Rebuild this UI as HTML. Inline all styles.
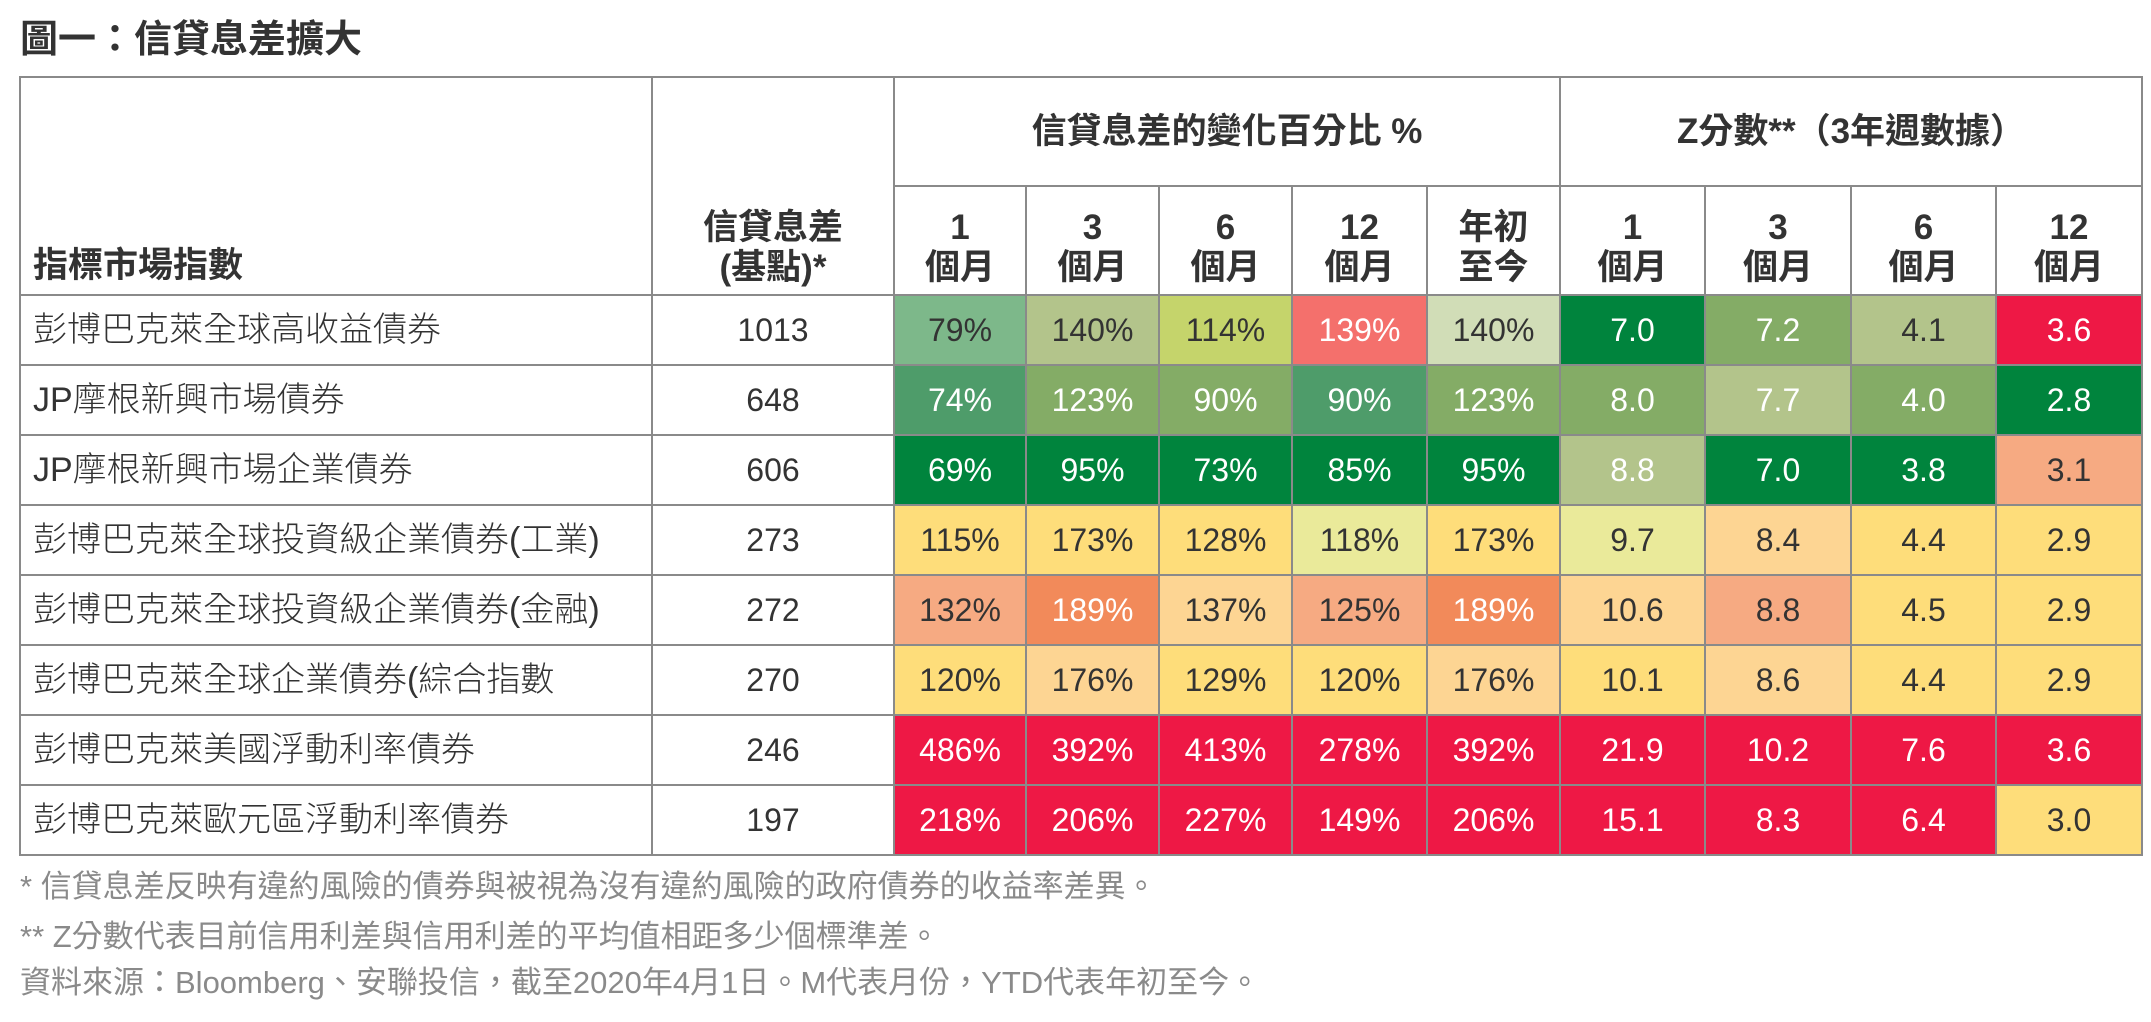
<!DOCTYPE html>
<html><head><meta charset="utf-8"><style>
body{margin:0;width:2151px;height:1022px;background:#fff;font-family:"Liberation Sans","Noto Sans CJK TC",sans-serif;color:#333;position:relative;overflow:hidden}
.title{position:absolute;left:20px;top:16px;font-size:38px;font-weight:bold;color:#333;line-height:48px}
table{position:absolute;left:19px;top:76px;border-collapse:collapse;table-layout:fixed}
td{border:2px solid #8a8a8a;padding:0;text-align:center;font-size:32px;line-height:40px}
td.h{font-weight:bold;color:#333;font-size:35px}
tr.b td{height:68px;font-weight:300}
tr.b td.l{text-align:left;padding-left:12px;font-size:34px}
.w{color:#fff}
.n{position:absolute;left:20px;font-size:31px;color:#8a8a8a;line-height:38px}
.m{vertical-align:bottom;padding-bottom:6px}
</style></head><body>
<div class="title">圖一：信貸息差擴大</div>
<table>
<colgroup><col style="width:632px"><col style="width:242px"><col style="width:132px"><col style="width:133px"><col style="width:133px"><col style="width:135px"><col style="width:133px"><col style="width:145px"><col style="width:146px"><col style="width:145px"><col style="width:146px"></colgroup>
<tr style="height:109px"><td rowspan="2" class="h" style="text-align:left;vertical-align:bottom;padding:0 0 8px 12px">指標市場指數</td><td rowspan="2" class="h m">信貸息差<br>(基點)*</td><td colspan="5" class="h">信貸息差的變化百分比 %</td><td colspan="4" class="h">Z分數**（3年週數據）</td></tr>
<tr style="height:109px"><td class="h m">1<br>個月</td><td class="h m">3<br>個月</td><td class="h m">6<br>個月</td><td class="h m">12<br>個月</td><td class="h m">年初<br>至今</td><td class="h m">1<br>個月</td><td class="h m">3<br>個月</td><td class="h m">6<br>個月</td><td class="h m">12<br>個月</td></tr>
<tr class="b"><td class="l">彭博巴克萊全球高收益債券</td><td>1013</td><td style="background:#7db88a">79%</td><td style="background:#b3c48b">140%</td><td style="background:#c5d46b">114%</td><td class="w" style="background:#f4706c">139%</td><td style="background:#d1ddb7">140%</td><td class="w" style="background:#00843d">7.0</td><td class="w" style="background:#84ac66">7.2</td><td style="background:#b3c48b">4.1</td><td class="w" style="background:#ee1845">3.6</td></tr>
<tr class="b"><td class="l">JP摩根新興市場債券</td><td>648</td><td class="w" style="background:#4e9c6a">74%</td><td class="w" style="background:#84ac66">123%</td><td class="w" style="background:#84ac66">90%</td><td class="w" style="background:#4e9c6a">90%</td><td class="w" style="background:#84ac66">123%</td><td class="w" style="background:#84ac66">8.0</td><td class="w" style="background:#b3c48b">7.7</td><td class="w" style="background:#84ac66">4.0</td><td class="w" style="background:#00843d">2.8</td></tr>
<tr class="b"><td class="l">JP摩根新興市場企業債券</td><td>606</td><td class="w" style="background:#00843d">69%</td><td class="w" style="background:#00843d">95%</td><td class="w" style="background:#00843d">73%</td><td class="w" style="background:#00843d">85%</td><td class="w" style="background:#00843d">95%</td><td class="w" style="background:#b3c48b">8.8</td><td class="w" style="background:#00843d">7.0</td><td class="w" style="background:#00843d">3.8</td><td style="background:#f6aa82">3.1</td></tr>
<tr class="b"><td class="l">彭博巴克萊全球投資級企業債券(工業)</td><td>273</td><td style="background:#fedd7a">115%</td><td style="background:#fedd7a">173%</td><td style="background:#fedd7a">128%</td><td style="background:#eaea9a">118%</td><td style="background:#fedd7a">173%</td><td style="background:#eaea9a">9.7</td><td style="background:#fdd593">8.4</td><td style="background:#fedd7a">4.4</td><td style="background:#fedd7a">2.9</td></tr>
<tr class="b"><td class="l">彭博巴克萊全球投資級企業債券(金融)</td><td>272</td><td style="background:#f6aa82">132%</td><td class="w" style="background:#f28a5a">189%</td><td style="background:#fdd593">137%</td><td style="background:#f6aa82">125%</td><td class="w" style="background:#f28a5a">189%</td><td style="background:#fdd593">10.6</td><td style="background:#f6aa82">8.8</td><td style="background:#fedd7a">4.5</td><td style="background:#fedd7a">2.9</td></tr>
<tr class="b"><td class="l">彭博巴克萊全球企業債券(綜合指數</td><td>270</td><td style="background:#fedd7a">120%</td><td style="background:#fdd593">176%</td><td style="background:#fedd7a">129%</td><td style="background:#fedd7a">120%</td><td style="background:#fdd593">176%</td><td style="background:#fedd7a">10.1</td><td style="background:#fdd593">8.6</td><td style="background:#fedd7a">4.4</td><td style="background:#fedd7a">2.9</td></tr>
<tr class="b"><td class="l">彭博巴克萊美國浮動利率債券</td><td>246</td><td class="w" style="background:#ee1845">486%</td><td class="w" style="background:#ee1845">392%</td><td class="w" style="background:#ee1845">413%</td><td class="w" style="background:#ee1845">278%</td><td class="w" style="background:#ee1845">392%</td><td class="w" style="background:#ee1845">21.9</td><td class="w" style="background:#ee1845">10.2</td><td class="w" style="background:#ee1845">7.6</td><td class="w" style="background:#ee1845">3.6</td></tr>
<tr class="b"><td class="l">彭博巴克萊歐元區浮動利率債券</td><td>197</td><td class="w" style="background:#ee1845">218%</td><td class="w" style="background:#ee1845">206%</td><td class="w" style="background:#ee1845">227%</td><td class="w" style="background:#ee1845">149%</td><td class="w" style="background:#ee1845">206%</td><td class="w" style="background:#ee1845">15.1</td><td class="w" style="background:#ee1845">8.3</td><td class="w" style="background:#ee1845">6.4</td><td style="background:#fedd7a">3.0</td></tr>
</table>
<div class="n" style="top:868px">* 信貸息差反映有違約風險的債券與被視為沒有違約風險的政府債券的收益率差異。</div>
<div class="n" style="top:918px">** Z分數代表目前信用利差與信用利差的平均值相距多少個標準差。</div>
<div class="n" style="top:964px">資料來源：Bloomberg、安聯投信，截至2020年4月1日。M代表月份，YTD代表年初至今。</div>
</body></html>
